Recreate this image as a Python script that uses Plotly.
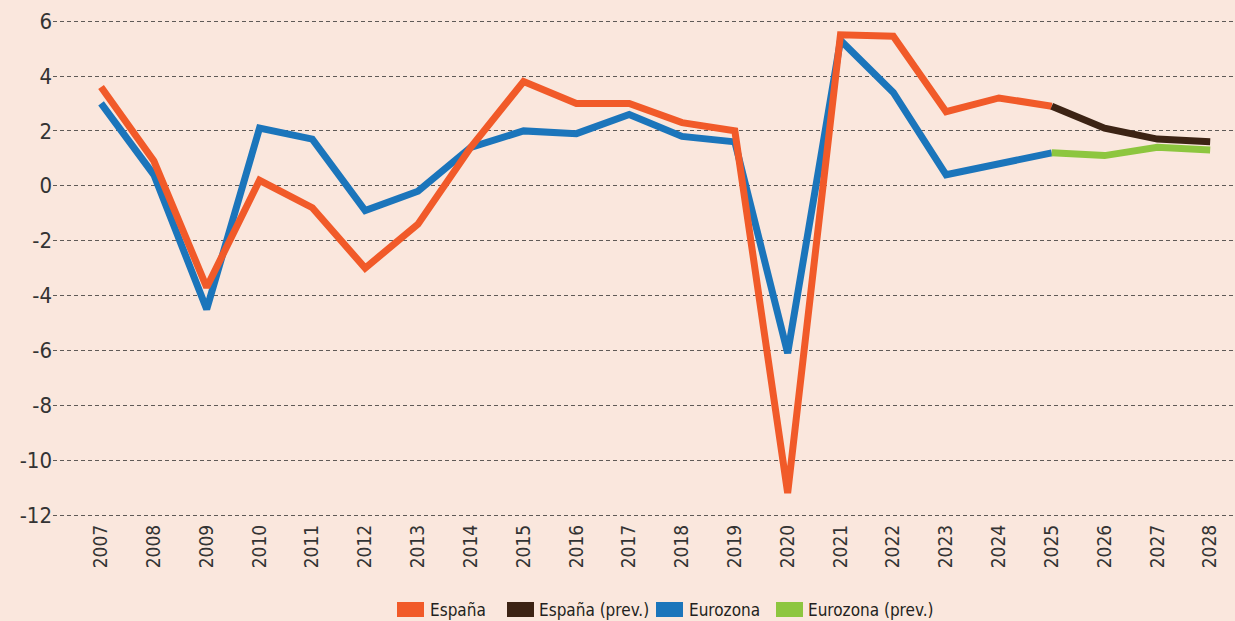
import plotly.graph_objects as go

years = list(range(2007, 2026))
espana = [3.6, 0.9, -3.7, 0.2, -0.8, -3.0, -1.4, 1.4, 3.8, 3.0, 3.0, 2.3, 2.0, -11.2, 5.5, 5.45, 2.7, 3.2, 2.9]
eurozona = [3.0, 0.4, -4.5, 2.1, 1.7, -0.9, -0.2, 1.4, 2.0, 1.9, 2.6, 1.8, 1.6, -6.1, 5.3, 3.4, 0.4, 0.8, 1.2]
prev_years = [2025, 2026, 2027, 2028]
espana_prev = [2.9, 2.1, 1.7, 1.6]
eurozona_prev = [1.2, 1.1, 1.4, 1.3]
x_labels = [str(y) for y in range(2007, 2029)]
y_ticks = [6, 4, 2, 0, -2, -4, -6, -8, -10, -12]

series_names = ["España", "España (prev.)", "Eurozona", "Eurozona (prev.)"]
colors = {"España": "#F15A29", "España (prev.)": "#3C2314",
          "Eurozona": "#1B75BB", "Eurozona (prev.)": "#8DC63F"}

FONT = "DejaVu Sans Condensed, Liberation Sans Narrow, sans-serif"
BG = "#FAE7DD"
LW = 7

fig = go.Figure()
fig.add_trace(go.Scatter(x=years, y=eurozona, mode="lines", name="Eurozona",
                         line=dict(color=colors["Eurozona"], width=LW), showlegend=False))
fig.add_trace(go.Scatter(x=years, y=espana, mode="lines", name="España",
                         line=dict(color=colors["España"], width=LW), showlegend=False))
fig.add_trace(go.Scatter(x=prev_years, y=eurozona_prev, mode="lines", name="Eurozona (prev.)",
                         line=dict(color=colors["Eurozona (prev.)"], width=LW), showlegend=False))
fig.add_trace(go.Scatter(x=prev_years, y=espana_prev, mode="lines", name="España (prev.)",
                         line=dict(color=colors["España (prev.)"], width=LW), showlegend=False))

# legend built from shapes + text (paper coords; plot spans x 53..1235 px, y 0..520 px)
W, H = 1182.0, 520.0
def px_x(p):
    return (p - 53) / W
def px_y(p):
    return (H - p) / H

legend_pos = [(397, 430), (507, 539), (656, 689), (776, 808)]
for name, (sx, tx) in zip(series_names, legend_pos):
    fig.add_shape(type="rect", xref="paper", yref="paper",
                  x0=px_x(sx), x1=px_x(sx + 27), y0=px_y(617), y1=px_y(602),
                  fillcolor=colors[name], line=dict(width=0))
    fig.add_annotation(xref="paper", yref="paper", x=px_x(tx - 2), y=px_y(609.5),
                       text=name, showarrow=False, xanchor="left", yanchor="middle",
                       font=dict(family=FONT, size=17, color="#231F20"))

fig.update_layout(
    width=1235, height=621,
    margin=dict(l=53, r=0, t=0, b=101),
    paper_bgcolor=BG, plot_bgcolor=BG,
    showlegend=False,
    font=dict(family=FONT, color="#333333"),
)
fig.update_xaxes(
    range=[2006.09, 2028.47],
    tickvals=list(range(2007, 2029)), ticktext=x_labels,
    tickangle=-90, tickfont=dict(size=19, color="#333333"),
    showgrid=False, zeroline=False, showline=False, ticks="",
)
fig.update_yaxes(
    range=[-12.18, 6.77],
    tickvals=y_ticks, ticktext=[str(v) for v in y_ticks],
    tickfont=dict(size=22, color="#333333"),
    showgrid=True, gridcolor="#5f5a57", gridwidth=1.3, griddash="4px,3px",
    zeroline=False, showline=False, ticks="",
)

fig.write_html("out.html", config={"displayModeBar": False},
               post_script="document.body.style.margin='0';document.body.style.background='%s';" % BG)
